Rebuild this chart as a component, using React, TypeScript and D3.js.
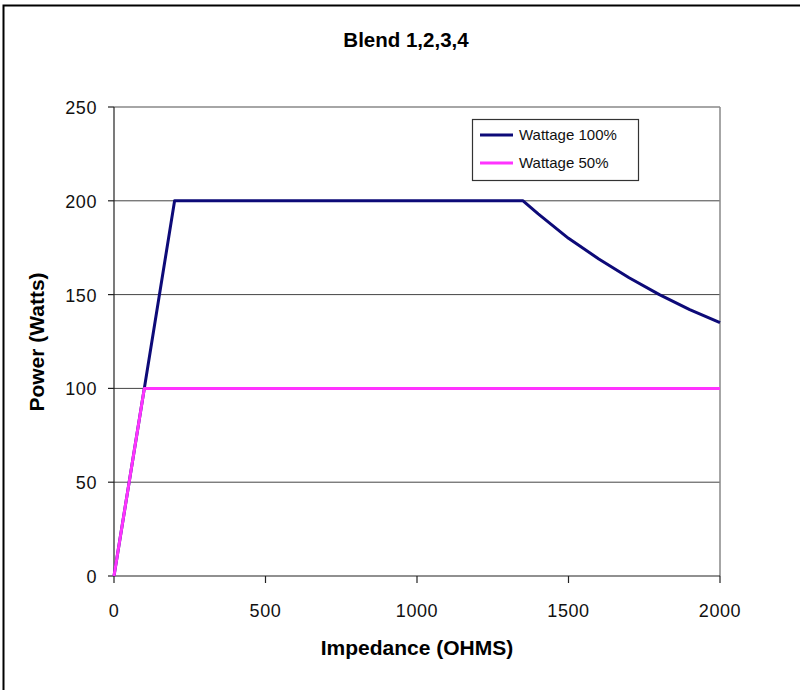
import React from "react";
import * as d3 from "d3";

const impedance100 = [0, 100, 200, 1350, 1400, 1500, 1600, 1700, 1800, 1900, 2000];
const power100 = [0, 100, 200, 200, 193, 180, 169, 159, 150, 142, 135];
const impedance50 = [0, 100, 2000];
const power50 = [0, 100, 100];
const xTicks = [0, 500, 1000, 1500, 2000];
const yTicks = [0, 50, 100, 150, 200, 250];
const seriesNames = ["Wattage 100%", "Wattage 50%"];
const seriesColors = ["#0d0a78", "#ff33ff"];

export default function App() {
  const W = 800, H = 690;
  const x = d3.scaleLinear().domain([0, 2000]).range([114, 720]);
  const y = d3.scaleLinear().domain([0, 250]).range([576, 107]);
  const line = d3
    .line<[number, number]>()
    .x((d) => x(d[0]))
    .y((d) => y(d[1]));
  const s100 = impedance100.map((v, i) => [v, power100[i]] as [number, number]);
  const s50 = impedance50.map((v, i) => [v, power50[i]] as [number, number]);
  const font = "'Liberation Sans', Arial, sans-serif";

  return (
    <svg
      width={W}
      height={H}
      style={{ position: "absolute", left: 0, top: 0, background: "#fff" }}
      fontFamily={font}
    >
      <rect x={3.5} y={5.5} width={900} height={900} fill="#fff" stroke="#000" strokeWidth={2} />
      <text x={406} y={47} textAnchor="middle" fontSize={20.5} fontWeight="bold">
        Blend 1,2,3,4
      </text>
      {/* gridlines */}
      {yTicks.slice(1, -1).map((t) => (
        <line key={t} x1={x(0)} x2={x(2000)} y1={y(t)} y2={y(t)} stroke="#444" strokeWidth={1} />
      ))}
      {/* plot border top/right */}
      <line x1={x(0)} x2={x(2000)} y1={y(250)} y2={y(250)} stroke="#888" strokeWidth={1.5} />
      <line x1={x(2000)} x2={x(2000)} y1={y(250)} y2={y(0)} stroke="#888" strokeWidth={1.5} />
      {/* axes */}
      <line x1={x(0)} x2={x(0)} y1={y(250)} y2={y(0)} stroke="#222" strokeWidth={1.2} />
      <line x1={x(0)} x2={x(2000)} y1={y(0)} y2={y(0)} stroke="#222" strokeWidth={1.2} />
      {yTicks.map((t) => (
        <g key={t}>
          <line x1={x(0) - 6} x2={x(0)} y1={y(t)} y2={y(t)} stroke="#222" strokeWidth={1.2} />
          <text x={97} y={y(t) + 7} textAnchor="end" fontSize={18} letterSpacing={0.6} fill="#111">
            {t}
          </text>
        </g>
      ))}
      {xTicks.map((t) => (
        <g key={t}>
          <line x1={x(t)} x2={x(t)} y1={y(0)} y2={y(0) + 7} stroke="#222" strokeWidth={1.2} />
          <text x={x(t)} y={617} textAnchor="middle" fontSize={18} letterSpacing={0.6} fill="#111">
            {t}
          </text>
        </g>
      ))}
      <text x={417} y={655} textAnchor="middle" fontSize={21} fontWeight="bold">
        Impedance (OHMS)
      </text>
      <text
        transform={`translate(44,342) rotate(-90)`}
        textAnchor="middle"
        fontSize={21}
        fontWeight="bold"
      >
        Power (Watts)
      </text>
      {/* series */}
      <path d={line(s100) || ""} fill="none" stroke={seriesColors[0]} strokeWidth={3} strokeLinejoin="round" />
      <path d={line(s50) || ""} fill="none" stroke={seriesColors[1]} strokeWidth={3} strokeLinejoin="round" />
      {/* legend */}
      <rect x={472.5} y={119.5} width={166} height={61} fill="#fff" stroke="#333" strokeWidth={1.2} />
      {seriesNames.map((n, i) => (
        <g key={n}>
          <line
            x1={480}
            x2={513}
            y1={135 + i * 28}
            y2={135 + i * 28}
            stroke={seriesColors[i]}
            strokeWidth={3}
          />
          <text x={519} y={140 + i * 28} fontSize={15} fill="#111">
            {n}
          </text>
        </g>
      ))}
    </svg>
  );
}
